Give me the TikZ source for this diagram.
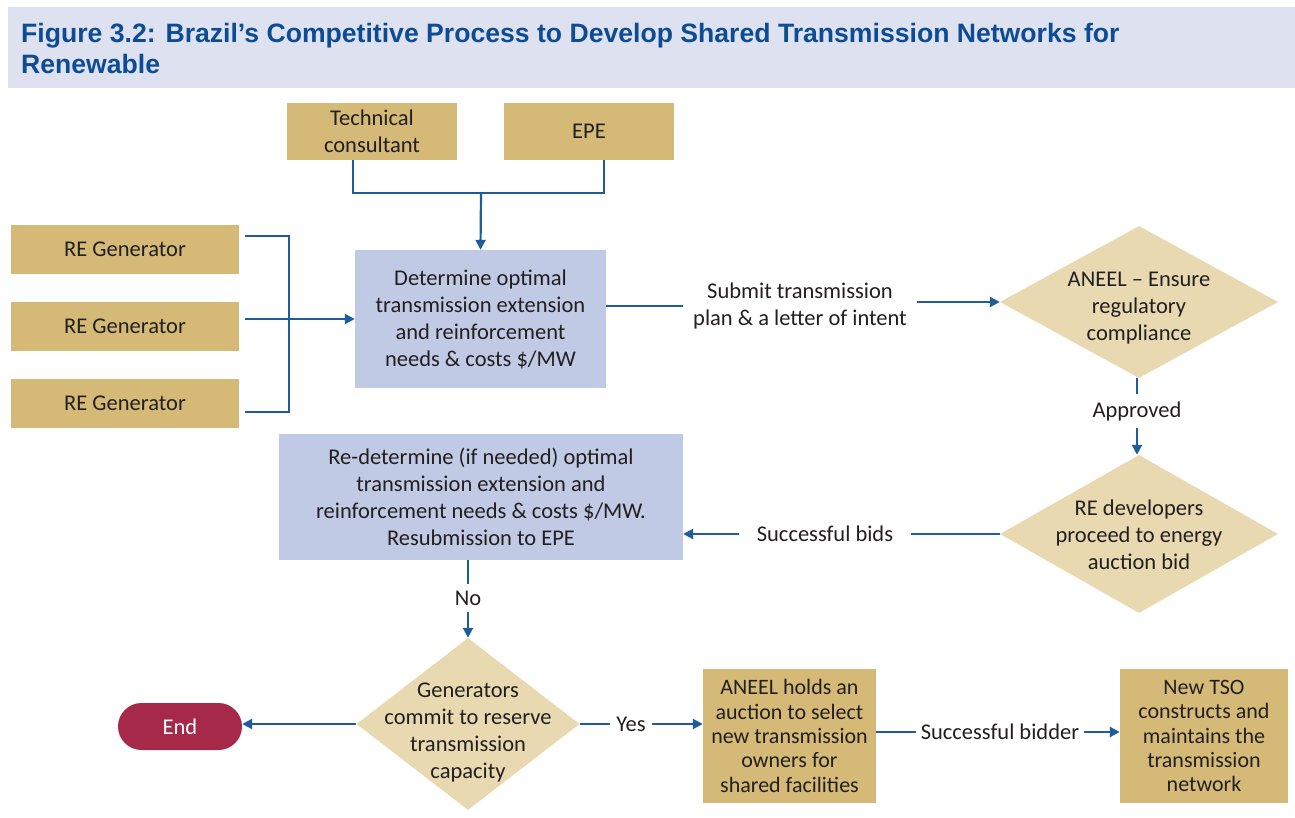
\documentclass[tikz,border=0pt]{standalone}
\usepackage{fontspec}
\setmainfont{Carlito}
\newfontfamily\titlefont{Liberation Sans}
\usetikzlibrary{arrows.meta,shapes.geometric,shapes.misc,calc}
\definecolor{tanc}{HTML}{D4BA76}
\definecolor{diac}{HTML}{E9D9B1}
\definecolor{bluc}{HTML}{C0CAE5}
\definecolor{linec}{HTML}{1F5C9E}
\definecolor{headc}{HTML}{DEE2F0}
\definecolor{titlec}{HTML}{0D4C94}
\definecolor{endc}{HTML}{A6294A}
\definecolor{txtc}{HTML}{231F20}
\begin{document}
\begin{tikzpicture}[x=1bp,y=-1bp,
  every node/.style={font=\fontsize{22.5bp}{27bp}\selectfont, text=txtc},
  tanbox/.style={fill=tanc, inner sep=0pt, align=center},
  blubox/.style={fill=bluc, inner sep=0pt, align=center},
  dia/.style={diamond, fill=diac, inner sep=0pt},
  lbl/.style={inner sep=0pt, align=center},
  con/.style={draw=linec, line width=2.2bp},
  arr/.style={con, -{Triangle[length=10bp,width=10bp]}}]
\useasboundingbox (0,0) rectangle (1295,818);
\fill[white] (0,0) rectangle (1295,818);
% header
\fill[headc] (8,7) rectangle (1295,88);
\node[anchor=north west, inner sep=0pt, align=left, text=titlec,
  font=\titlefont\bfseries\fontsize{26.6bp}{31bp}\selectfont] (title) at (21,23)
  {Figure 3.2: Brazil’s Competitive Process to Develop Shared Transmission Networks for\\Renewable};
% top boxes
\node[tanbox, minimum width=170bp, minimum height=57bp] (tc) at (372,131.5) {Technical\\consultant};
\node[tanbox, minimum width=170bp, minimum height=57bp] (epe) at (589,131.5) {EPE};
\node[blubox, minimum width=251bp, minimum height=138bp] (det) at (480.5,319) {\raisebox{-3bp}{}Determine optimal\\transmission extension\\and reinforcement\\needs \& costs \$/MW};
\coordinate (j1) at (481,193);
\draw[con] ($(tc.south)+(-19,0)$) |- (j1) -| ($(epe.south)+(15,0)$);
\draw[arr] (j1) -- (det.north);
% RE generators
\node[tanbox, minimum width=228bp, minimum height=49bp] (re1) at (125,249.5) {RE Generator};
\node[tanbox, minimum width=228bp, minimum height=49bp] (re2) at (125,326.5) {RE Generator};
\node[tanbox, minimum width=228bp, minimum height=49bp] (re3) at (125,403.5) {RE Generator};
\coordinate (bk) at (289,321);
\draw[con] ($(re1.east)+(6,-13.5)$) -| (bk) |- ($(re3.east)+(6,8.5)$);
\draw[arr] ([xshift=6bp]re2.east |- det.west) -- (det.west);
% submit
\node[lbl, inner xsep=10bp] (sub) at (800,306) {Submit transmission\\plan \& a letter of intent};
\node[dia, minimum width=278bp, minimum height=152bp] (an1) at (1139,302) {};
\node[lbl] (an1t) at (1139,308) {ANEEL – Ensure\\regulatory\\compliance};
\draw[con] (det.east |- sub.west) -- (sub.west);
\draw[arr] (sub.east |- an1.west) -- (an1.west);
% approved
\node[lbl, inner ysep=7bp] (apr) at (1137,411) {Approved};
\node[dia, minimum width=278bp, minimum height=158bp] (an2) at (1139,534) {};
\node[lbl] (an2t) at (1139,535) {RE developers\\proceed to energy\\auction bid};
\draw[con] (an1.south -| apr.north) -- (apr.north);
\draw[arr] (apr.south) -- (an2.north -| apr.south);
% redetermine
\node[blubox, minimum width=404bp, minimum height=126bp] (redet) at (481,497) {Re-determine (if needed) optimal\\transmission extension and\\reinforcement needs \& costs \$/MW.\\Resubmission to EPE};
\node[lbl, inner xsep=18bp] (sb) at (825,534) {Successful bids};
\draw[con] (an2.west) -- (sb.east);
\draw[arr] (sb.west) -- (redet.east |- sb.west);
% no
\node[lbl, inner ysep=7bp] (no) at (468,598) {No};
\node[dia, minimum width=223bp, minimum height=172bp] (gen) at (468,724) {};
\node[lbl] (gent) at (468,733) {Generators\\commit to reserve\\transmission\\capacity};
\draw[con] (redet.south -| no.north) -- (no.north);
\draw[arr] (no.south) -- (gen.north);
% end
\node[rounded rectangle, fill=endc, minimum width=124bp, minimum height=47bp, inner sep=0pt, text=white] (end) at (180,726.5) {End};
\draw[arr] (gen.west) -- (end.east |- gen.west);
% yes
\node[lbl, inner xsep=6bp] (yes) at (631,724) {Yes};
\node[tanbox, minimum width=173bp, minimum height=134bp, font=\fontsize{22bp}{24.3bp}\selectfont] (anb) at (789.5,736) {ANEEL holds an\\auction to select\\new transmission\\owners for\\shared facilities};
\draw[con] (gen.east |- yes.west) -- (yes.west);
\draw[arr] (yes.east) -- (anb.west |- yes.east);
% successful bidder
\node[lbl, inner xsep=5bp] (sbd) at (1000,732) {Successful bidder};
\node[tanbox, minimum width=168bp, minimum height=134bp, font=\fontsize{22bp}{24.3bp}\selectfont] (tso) at (1204,736) {New TSO\\constructs and\\maintains the\\transmission\\network};
\draw[con] (anb.east |- sbd.west) -- (sbd.west);
\draw[arr] (sbd.east) -- (tso.west |- sbd.east);
\end{tikzpicture}
\end{document}
